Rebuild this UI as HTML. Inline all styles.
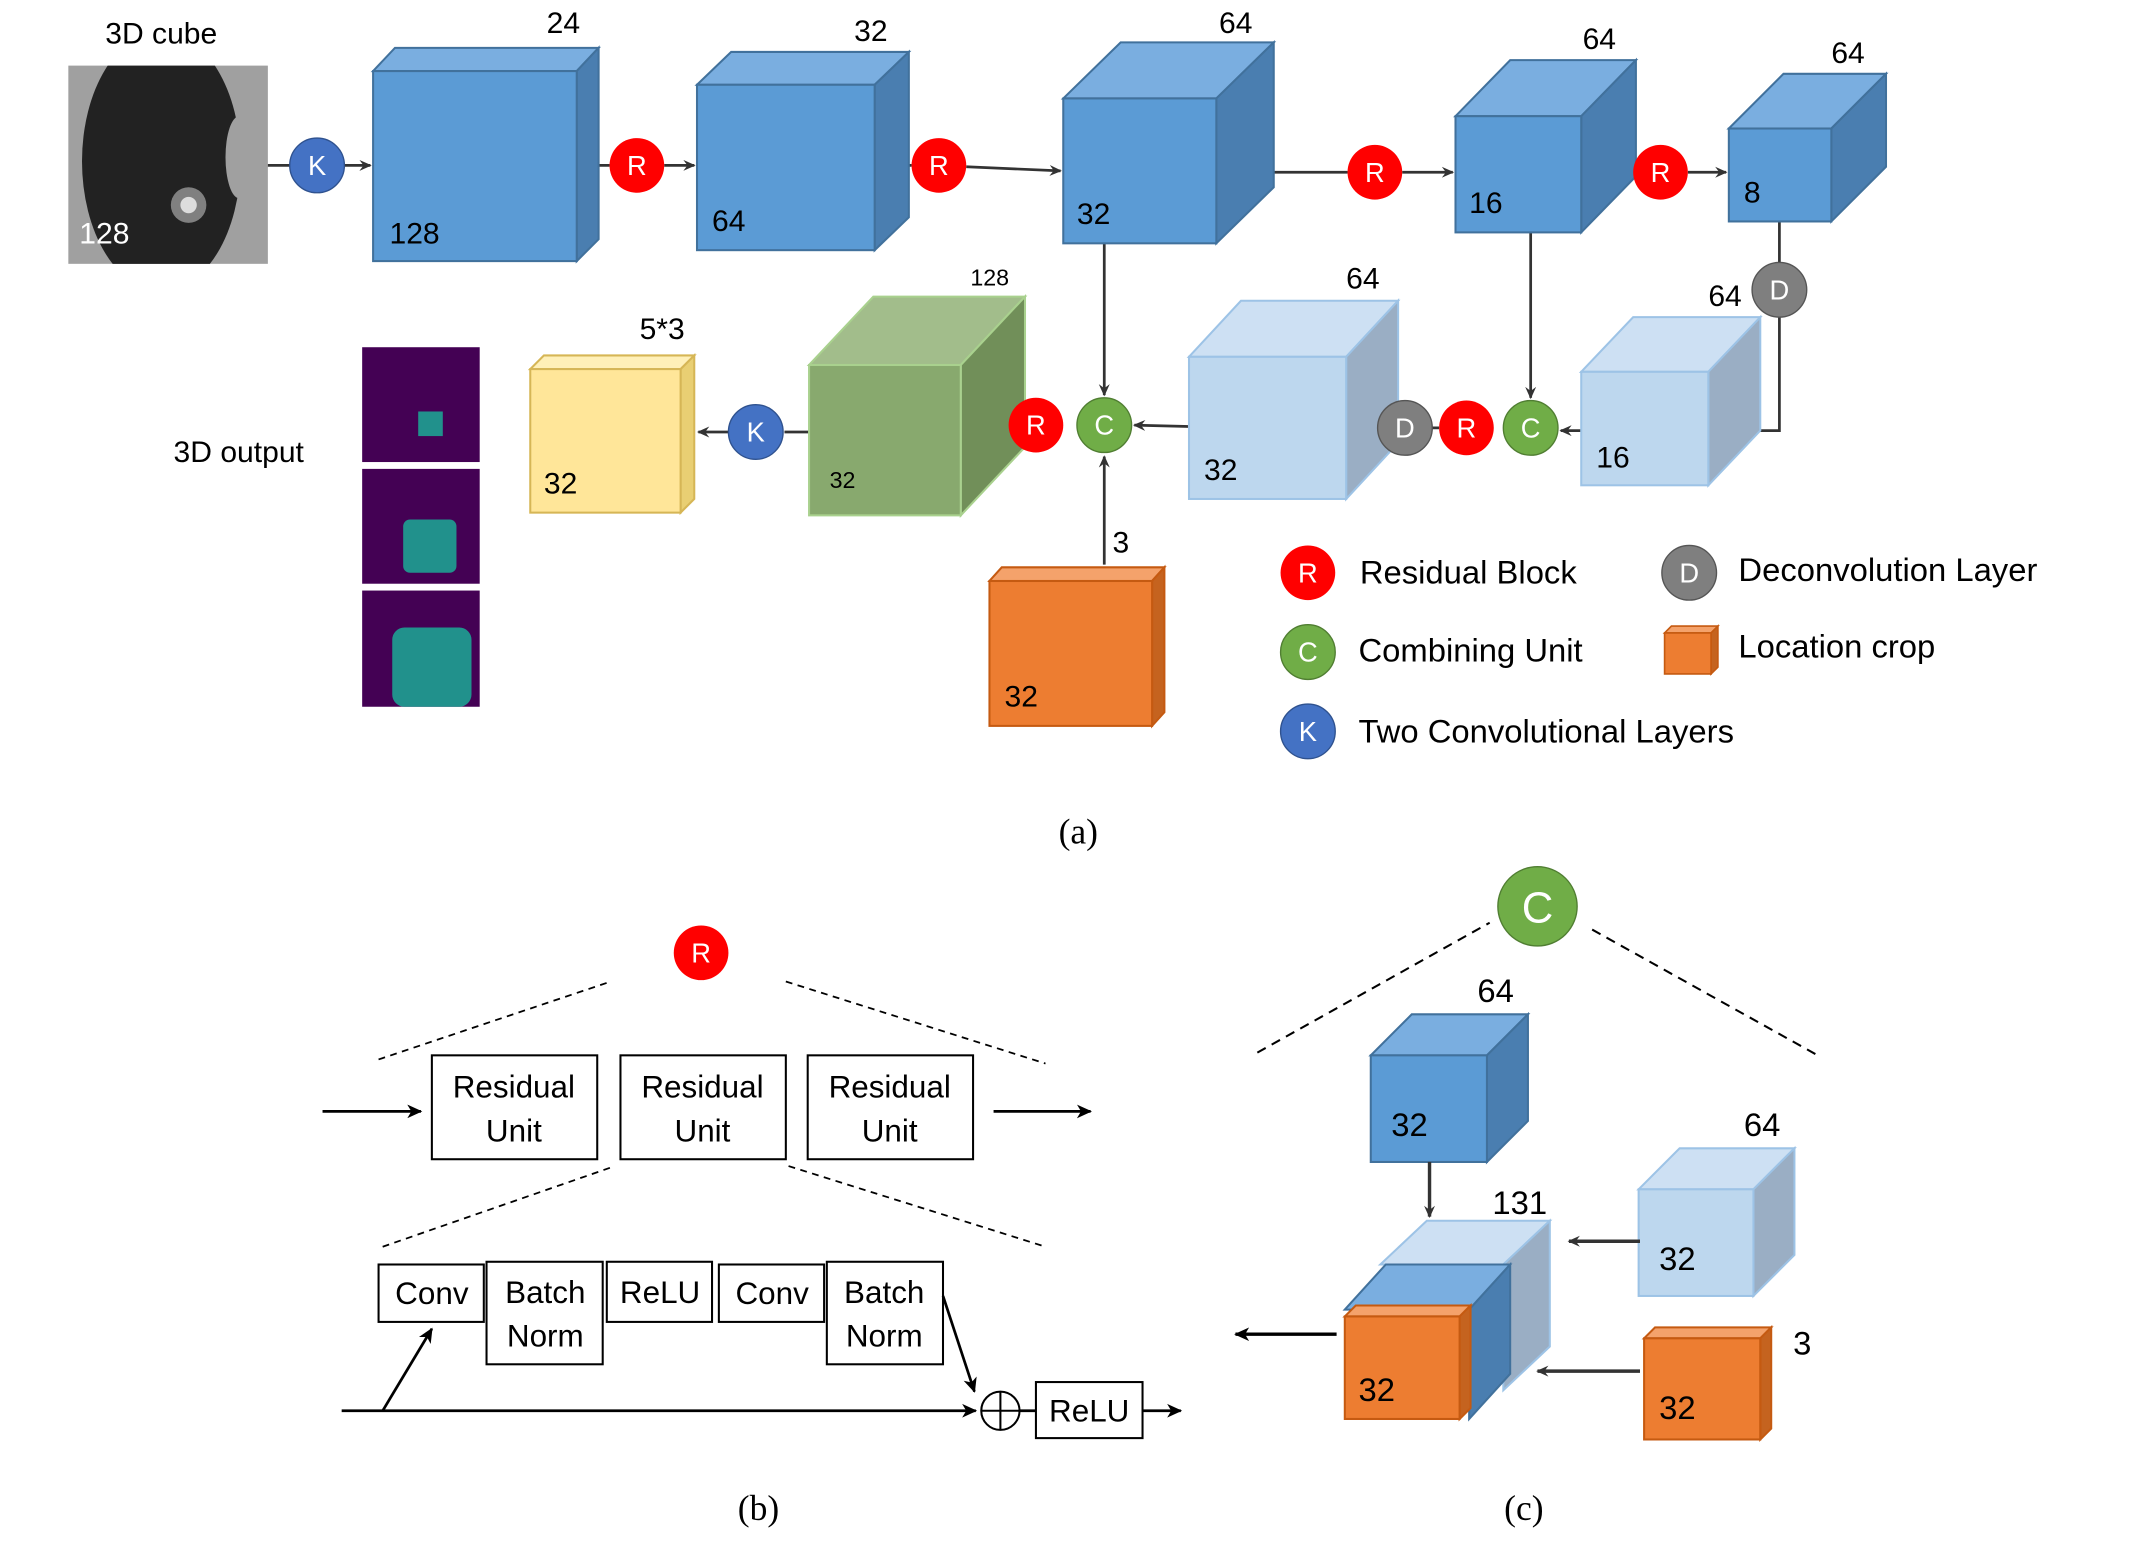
<!DOCTYPE html>
<html><head><meta charset="utf-8"><style>
html,body{margin:0;padding:0;background:#fff;}
svg{display:block;}
text{font-family:"Liberation Sans","DejaVu Sans",sans-serif;}
.s{font-family:"Liberation Serif",serif;}
</style></head><body>
<svg width="2132" height="1542" viewBox="0 0 1560 1128" preserveAspectRatio="none" xmlns="http://www.w3.org/2000/svg">
<defs>
<marker id="a" markerWidth="10" markerHeight="10" refX="8" refY="5" orient="auto" markerUnits="userSpaceOnUse"><path d="M0,1 L9,5 L0,9 L3,5 Z" fill="#333"/></marker>
<marker id="b" markerWidth="12" markerHeight="12" refX="10" refY="6" orient="auto" markerUnits="userSpaceOnUse"><path d="M0,1 L11,6 L0,11 L3,6 Z" fill="#000"/></marker>
<clipPath id="lc"><rect x="50" y="48" width="146" height="145"/></clipPath>
</defs>

<text x="118" y="32" font-size="22" text-anchor="middle">3D cube</text>
<rect x="50" y="48" width="146" height="145" fill="#a0a0a0"/>
<g clip-path="url(#lc)">
<ellipse cx="118" cy="118" rx="58" ry="95" fill="#222"/>
<ellipse cx="175" cy="115" rx="10" ry="30" fill="#a0a0a0"/>
<circle cx="138" cy="150" r="13" fill="#999" opacity="0.8"/>
<circle cx="138" cy="150" r="6" fill="#ddd"/>
</g>
<text x="58" y="178" font-size="22" fill="#fff">128</text>

<g stroke="#333" stroke-width="2" fill="none">
<line x1="196" y1="121" x2="212" y2="121"/>
<line x1="252" y1="121" x2="271" y2="121" marker-end="url(#a)"/>
<line x1="422" y1="121" x2="446" y2="121"/>
<line x1="486" y1="121" x2="508" y2="121" marker-end="url(#a)"/>
<line x1="640" y1="121" x2="667" y2="121"/>
<line x1="707" y1="122" x2="776" y2="125" marker-end="url(#a)"/>
<line x1="890" y1="126" x2="986" y2="126"/>
<line x1="1026" y1="126" x2="1063" y2="126" marker-end="url(#a)"/>
<line x1="1157" y1="126" x2="1195" y2="126"/>
<line x1="1235" y1="126" x2="1263" y2="126" marker-end="url(#a)"/>
<line x1="1302" y1="162" x2="1302" y2="192"/>
<polyline points="1302,232 1302,315 1252,315" marker-end="url(#a)"/>
<line x1="1120" y1="170" x2="1120" y2="291" marker-end="url(#a)"/>
<line x1="1157" y1="315" x2="1142" y2="315" marker-end="url(#a)"/>
<line x1="1048" y1="313" x2="1053" y2="313"/>
<line x1="1008" y1="313" x2="987" y2="313" marker-end="url(#a)"/>
<line x1="808" y1="178" x2="808" y2="289" marker-end="url(#a)"/>
<line x1="870" y1="312" x2="830" y2="311" marker-end="url(#a)"/>
<line x1="808" y1="413" x2="808" y2="334" marker-end="url(#a)"/>
<line x1="738" y1="311" x2="722" y2="311" marker-end="url(#a)"/>
<line x1="592" y1="316" x2="574" y2="316"/>
<line x1="533" y1="316" x2="511" y2="316" marker-end="url(#a)"/>
</g>

<g stroke="#41719c" stroke-width="1.5">
<polygon points="273,52 289,35 438,35 422,52" fill="#7aaee0"/>
<polygon points="422,52 438,35 438,175 422,191" fill="#4a7eb0"/>
<rect x="273" y="52" width="149" height="139" fill="#5b9bd5"/>
<polygon points="510,62 535,38 665,38 640,62" fill="#7aaee0"/>
<polygon points="640,62 665,38 665,159 640,183" fill="#4a7eb0"/>
<rect x="510" y="62" width="130" height="121" fill="#5b9bd5"/>
<polygon points="778,72 820,31 932,31 890,72" fill="#7aaee0"/>
<polygon points="890,72 932,31 932,137 890,178" fill="#4a7eb0"/>
<rect x="778" y="72" width="112" height="106" fill="#5b9bd5"/>
<polygon points="1065,85 1105,44 1197,44 1157,85" fill="#7aaee0"/>
<polygon points="1157,85 1197,44 1197,129 1157,170" fill="#4a7eb0"/>
<rect x="1065" y="85" width="92" height="85" fill="#5b9bd5"/>
<polygon points="1265,94 1305,54 1380,54 1340,94" fill="#7aaee0"/>
<polygon points="1340,94 1380,54 1380,122 1340,162" fill="#4a7eb0"/>
<rect x="1265" y="94" width="75" height="68" fill="#5b9bd5"/>
</g>
<g font-size="22">
<text x="400" y="24">24</text><text x="285" y="178">128</text>
<text x="625" y="30">32</text><text x="521" y="169">64</text>
<text x="892" y="24">64</text><text x="788" y="164">32</text>
<text x="1158" y="36">64</text><text x="1075" y="156">16</text>
<text x="1340" y="46">64</text><text x="1276" y="148">8</text>
</g>

<g stroke="#9dc3e6" stroke-width="1.5">
<polygon points="870,261 908,220 1023,220 985,261" fill="#cde0f3"/>
<polygon points="985,261 1023,220 1023,324 985,365" fill="#9aaec4"/>
<rect x="870" y="261" width="115" height="104" fill="#bdd7ee"/>
<polygon points="1157,272 1195,232 1288,232 1250,272" fill="#cde0f3"/>
<polygon points="1250,272 1288,232 1288,315 1250,355" fill="#9aaec4"/>
<rect x="1157" y="272" width="93" height="83" fill="#bdd7ee"/>
</g>
<g stroke="#a9d18e" stroke-width="1.5">
<polygon points="592,267 639,217 750,217 703,267" fill="#a2bd8b"/>
<polygon points="703,267 750,217 750,327 703,377" fill="#718f59"/>
<rect x="592" y="267" width="111" height="110" fill="#88a96e"/>
</g>
<g stroke="#d6b656" stroke-width="1.5">
<polygon points="388,270 398,260 508,260 498,270" fill="#fff0b8"/>
<polygon points="498,270 508,260 508,365 498,375" fill="#e9cf73"/>
<rect x="388" y="270" width="110" height="105" fill="#ffe699"/>
</g>
<g stroke="#c55a11" stroke-width="1.5">
<polygon points="724,425 733,415 852,415 843,425" fill="#f4a26b"/>
<polygon points="843,425 852,415 852,521 843,531" fill="#c5631f"/>
<rect x="724" y="425" width="119" height="106" fill="#ed7d31"/>
</g>
<g font-size="22">
<text x="985" y="211">64</text><text x="881" y="351">32</text>
<text x="1250" y="224">64</text><text x="1168" y="342">16</text>
<text x="710" y="209" font-size="17">128</text><text x="607" y="357" font-size="17">32</text>
<text x="468" y="248">5*3</text><text x="398" y="361">32</text>
<text x="814" y="404">3</text><text x="735" y="517">32</text>
</g>

<g font-size="20" fill="#fff" text-anchor="middle">
<circle cx="232" cy="121" r="20" fill="#4472c4" stroke="#2f528f"/><text x="232" y="128">K</text>
<circle cx="466" cy="121" r="20" fill="#f00"/><text x="466" y="128">R</text>
<circle cx="687" cy="121" r="20" fill="#f00"/><text x="687" y="128">R</text>
<circle cx="1006" cy="126" r="20" fill="#f00"/><text x="1006" y="133">R</text>
<circle cx="1215" cy="126" r="20" fill="#f00"/><text x="1215" y="133">R</text>
<circle cx="1302" cy="212" r="20" fill="#7f7f7f" stroke="#555"/><text x="1302" y="219">D</text>
<circle cx="1120" cy="313" r="20" fill="#70ad47" stroke="#507e32"/><text x="1120" y="320">C</text>
<circle cx="1073" cy="313" r="20" fill="#f00"/><text x="1073" y="320">R</text>
<circle cx="1028" cy="313" r="20" fill="#7f7f7f" stroke="#555"/><text x="1028" y="320">D</text>
<circle cx="808" cy="311" r="20" fill="#70ad47" stroke="#507e32"/><text x="808" y="318">C</text>
<circle cx="758" cy="311" r="20" fill="#f00"/><text x="758" y="318">R</text>
<circle cx="553" cy="316" r="20" fill="#4472c4" stroke="#2f528f"/><text x="553" y="323">K</text>
</g>

<text x="127" y="338" font-size="22">3D output</text>
<rect x="265" y="254" width="86" height="84" fill="#440154"/>
<rect x="306" y="301" width="18" height="18" fill="#21918c"/>
<rect x="265" y="343" width="86" height="84" fill="#440154"/>
<rect x="295" y="380" width="39" height="39" rx="5" fill="#21918c"/>
<rect x="265" y="432" width="86" height="85" fill="#440154"/>
<rect x="287" y="459" width="58" height="58" rx="9" fill="#21918c"/>

<g font-size="20" fill="#fff" text-anchor="middle">
<circle cx="957" cy="419" r="20" fill="#f00"/><text x="957" y="426">R</text>
<circle cx="1236" cy="419" r="20" fill="#7f7f7f" stroke="#555"/><text x="1236" y="426">D</text>
<circle cx="957" cy="477" r="20" fill="#70ad47" stroke="#507e32"/><text x="957" y="484">C</text>
<circle cx="957" cy="535" r="20" fill="#4472c4" stroke="#2f528f"/><text x="957" y="542">K</text>
</g>
<g stroke="#c55a11" stroke-width="1.2">
<polygon points="1218,463 1223,458 1257,458 1252,463" fill="#f4a26b"/>
<polygon points="1252,463 1257,458 1257,488 1252,493" fill="#c5631f"/>
<rect x="1218" y="463" width="34" height="30" fill="#ed7d31"/>
</g>
<g font-size="24">
<text x="995" y="427">Residual Block</text>
<text x="1272" y="425">Deconvolution Layer</text>
<text x="994" y="484">Combining Unit</text>
<text x="1272" y="481">Location crop</text>
<text x="994" y="543">Two Convolutional Layers</text>
</g>
<text class="s" x="789" y="617" font-size="26" text-anchor="middle">(a)</text>

<circle cx="513" cy="697" r="20" fill="#f00"/><text x="513" y="704" font-size="20" fill="#fff" text-anchor="middle">R</text>
<g stroke="#000" stroke-width="1.3" stroke-dasharray="5,4">
<line x1="277" y1="775" x2="447" y2="718"/><line x1="575" y1="718" x2="765" y2="778"/>
<line x1="280" y1="912" x2="450" y2="853"/><line x1="577" y1="853" x2="765" y2="912"/>
</g>
<g fill="#fff" stroke="#000" stroke-width="1.5">
<rect x="316" y="772" width="121" height="76"/><rect x="454" y="772" width="121" height="76"/><rect x="591" y="772" width="121" height="76"/>
<rect x="277" y="925" width="77" height="42"/><rect x="356" y="923" width="85" height="75"/>
<rect x="444" y="923" width="77" height="44"/><rect x="526" y="925" width="77" height="42"/>
<rect x="605" y="923" width="85" height="75"/><rect x="758" y="1011" width="78" height="41"/>
<circle cx="732" cy="1032" r="14"/>
</g>
<g stroke="#000" stroke-width="1.5"><line x1="718" y1="1032" x2="746" y2="1032"/><line x1="732" y1="1018" x2="732" y2="1046"/></g>
<g stroke="#000" stroke-width="2" fill="none">
<line x1="236" y1="813" x2="308" y2="813" marker-end="url(#b)"/>
<line x1="727" y1="813" x2="798" y2="813" marker-end="url(#b)"/>
<line x1="250" y1="1032" x2="714" y2="1032" marker-end="url(#b)"/>
<line x1="280" y1="1032" x2="316" y2="972" marker-end="url(#b)"/>
<line x1="690" y1="948" x2="713" y2="1018" marker-end="url(#b)"/>
<line x1="746" y1="1032" x2="758" y2="1032"/>
<line x1="836" y1="1032" x2="864" y2="1032" marker-end="url(#b)"/>
</g>
<g font-size="23" text-anchor="middle">
<text x="376" y="803">Residual</text><text x="376" y="835">Unit</text>
<text x="514" y="803">Residual</text><text x="514" y="835">Unit</text>
<text x="651" y="803">Residual</text><text x="651" y="835">Unit</text>
<text x="316" y="954">Conv</text><text x="399" y="953">Batch</text><text x="399" y="985">Norm</text>
<text x="483" y="953">ReLU</text><text x="565" y="954">Conv</text>
<text x="647" y="953">Batch</text><text x="647" y="985">Norm</text>
<text x="797" y="1040">ReLU</text>
</g>
<text class="s" x="555" y="1112" font-size="26" text-anchor="middle">(b)</text>

<circle cx="1125" cy="663" r="29" fill="#70ad47" stroke="#507e32"/><text x="1125" y="675" font-size="32" fill="#fff" text-anchor="middle">C</text>
<g stroke="#000" stroke-width="1.5" stroke-dasharray="7,5">
<line x1="920" y1="770" x2="1090" y2="675"/><line x1="1165" y1="680" x2="1330" y2="772"/>
</g>
<g stroke="#41719c" stroke-width="1.5">
<polygon points="1003,772 1033,742 1118,742 1088,772" fill="#7aaee0"/>
<polygon points="1088,772 1118,742 1118,820 1088,850" fill="#4a7eb0"/>
<rect x="1003" y="772" width="85" height="78" fill="#5b9bd5"/>
</g>
<g stroke="#9dc3e6" stroke-width="1.5">
<polygon points="1199,870 1229,840 1313,840 1283,870" fill="#cde0f3"/>
<polygon points="1283,870 1313,840 1313,918 1283,948" fill="#9aaec4"/>
<rect x="1199" y="870" width="84" height="78" fill="#bdd7ee"/>
<polygon points="1010,925 1044,893 1134,893 1100,925" fill="#cde0f3"/>
<polygon points="1100,925 1134,893 1134,985 1100,1017" fill="#9aaec4"/>
</g>
<g stroke="#41719c" stroke-width="1.5">
<polygon points="984,958 1014,925 1105,925 1075,958" fill="#7aaee0"/>
<polygon points="1075,958 1105,925 1105,1005 1075,1038" fill="#4a7eb0"/>
</g>
<g stroke="#c55a11" stroke-width="1.5">
<polygon points="984,963 992,955 1076,955 1068,963" fill="#f4a26b"/>
<polygon points="1068,963 1076,955 1076,1030 1068,1038" fill="#c5631f"/>
<rect x="984" y="963" width="84" height="75" fill="#ed7d31"/>
<polygon points="1203,979 1211,971 1296,971 1288,979" fill="#f4a26b"/>
<polygon points="1288,979 1296,971 1296,1045 1288,1053" fill="#c5631f"/>
<rect x="1203" y="979" width="85" height="74" fill="#ed7d31"/>
</g>
<g stroke="#333" stroke-width="2.5" fill="none">
<line x1="1046" y1="850" x2="1046" y2="890" marker-end="url(#a)"/>
<line x1="1200" y1="908" x2="1148" y2="908" marker-end="url(#a)"/>
<line x1="1200" y1="1003" x2="1125" y2="1003" marker-end="url(#a)"/>
</g>
<line x1="978" y1="976" x2="904" y2="976" stroke="#000" stroke-width="2.5" marker-end="url(#b)"/>
<g font-size="24">
<text x="1081" y="733">64</text><text x="1018" y="831">32</text>
<text x="1276" y="831">64</text><text x="1214" y="929">32</text>
<text x="1092" y="888">131</text><text x="994" y="1025">32</text>
<text x="1312" y="991">3</text><text x="1214" y="1038">32</text>
</g>
<text class="s" x="1115" y="1112" font-size="26" text-anchor="middle">(c)</text>
</svg>
</body></html>
